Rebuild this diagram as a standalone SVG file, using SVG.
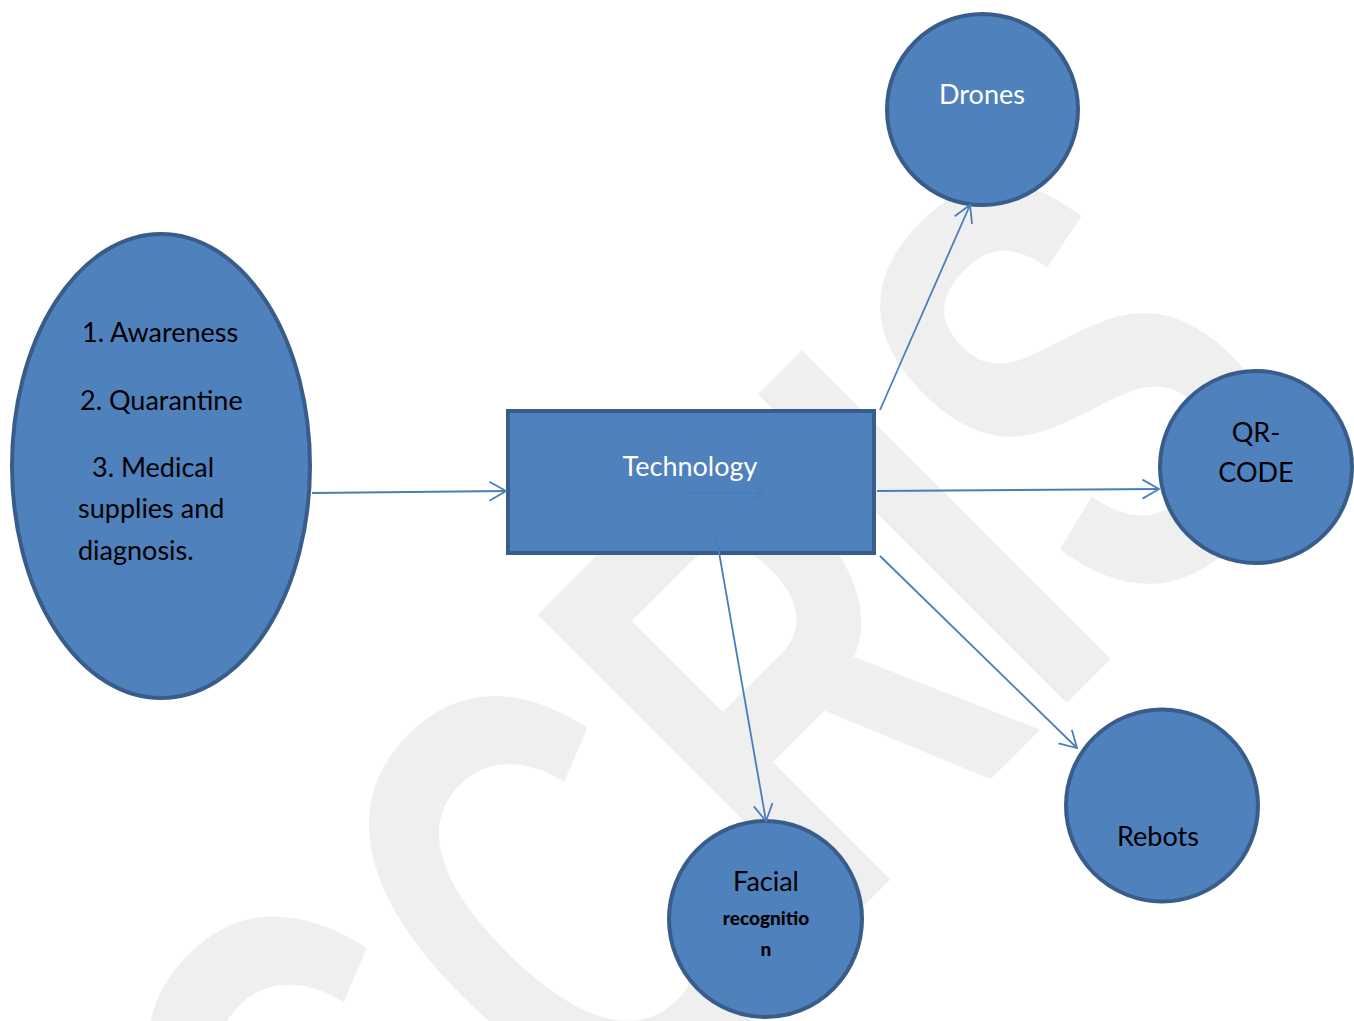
<svg xmlns="http://www.w3.org/2000/svg" width="1354" height="1021" viewBox="0 0 1354 1021">
  <style>
    .node { fill: #4f81bd; stroke: #385d8a; stroke-width: 4; }
    .lbl { font-family: Lato, "Open Sans", "Liberation Sans", sans-serif; font-size: 27px; fill: #000000; }
    .w { fill: #ffffff; }
    .mid { text-anchor: middle; }
    .sm { font-size: 19px; font-weight: 900; }
    .edge { fill: none; stroke: #4a7ebb; stroke-width: 1.8; marker-end: url(#arrow); }
    .wm { font-family: "Liberation Sans", Arial, sans-serif; font-weight: bold; font-size: 635px; fill: #efefef; }
  </style>
  <defs>
    <marker id="arrow" viewBox="-20 -12 22 24" markerWidth="22" markerHeight="24" refX="0" refY="0" orient="auto" markerUnits="userSpaceOnUse">
      <path d="M-16.5,-9.5 L0,0 L-16.5,9.5" fill="none" stroke="#4a7ebb" stroke-width="1.8"/>
    </marker>
  </defs>
  <rect x="0" y="0" width="1354" height="1021" fill="#ffffff"/>
  <g id="watermark">
    <text class="wm" transform="translate(385 1385) rotate(-45) scale(0.68 1)" x="0" y="0">CCRIS</text>
  </g>
  <g id="node-measures">
    <ellipse class="node" cx="161" cy="466" rx="149" ry="232"/>
    <text class="lbl" x="82" y="342">1. Awareness</text>
    <text class="lbl" x="80" y="410">2. Quarantine</text>
    <text class="lbl" x="92" y="477">3. Medical</text>
    <text class="lbl" x="78" y="518">supplies and</text>
    <text class="lbl" x="78" y="560">diagnosis.</text>
  </g>
  <g id="node-technology">
    <rect class="node" x="508" y="411" width="366" height="142"/>
    <text class="lbl w mid" x="690" y="476">Technology</text>
  </g>
  <g id="node-drones">
    <circle class="node" cx="982.5" cy="109.5" r="95.5"/>
    <text class="lbl w mid" x="982" y="104">Drones</text>
  </g>
  <g id="node-qrcode">
    <circle class="node" cx="1256" cy="467" r="96"/>
    <text class="lbl mid" x="1256" y="442">QR-</text>
    <text class="lbl mid" x="1256" y="482">CODE</text>
  </g>
  <g id="node-rebots">
    <circle class="node" cx="1162" cy="805.5" r="96"/>
    <text class="lbl mid" x="1158" y="846">Rebots</text>
  </g>
  <g id="node-facial">
    <ellipse class="node" cx="765.5" cy="919" rx="96.5" ry="98"/>
    <text class="lbl mid" x="766" y="891">Facial</text>
    <text class="lbl mid sm" x="766" y="925">recognitio</text>
    <text class="lbl mid sm" x="766" y="956">n</text>
  </g>
  <g id="connectors">
    <line class="edge" x1="312" y1="493" x2="506" y2="491"/>
    <line class="edge" x1="880" y1="410" x2="970" y2="205"/>
    <line class="edge" x1="877" y1="491" x2="1159" y2="489"/>
    <line class="edge" x1="716" y1="535" x2="766" y2="821"/>
    <line class="edge" x1="880" y1="556" x2="1077" y2="748"/>
    <line class="edge" x1="686" y1="493" x2="764" y2="493"/>
  </g>
</svg>
